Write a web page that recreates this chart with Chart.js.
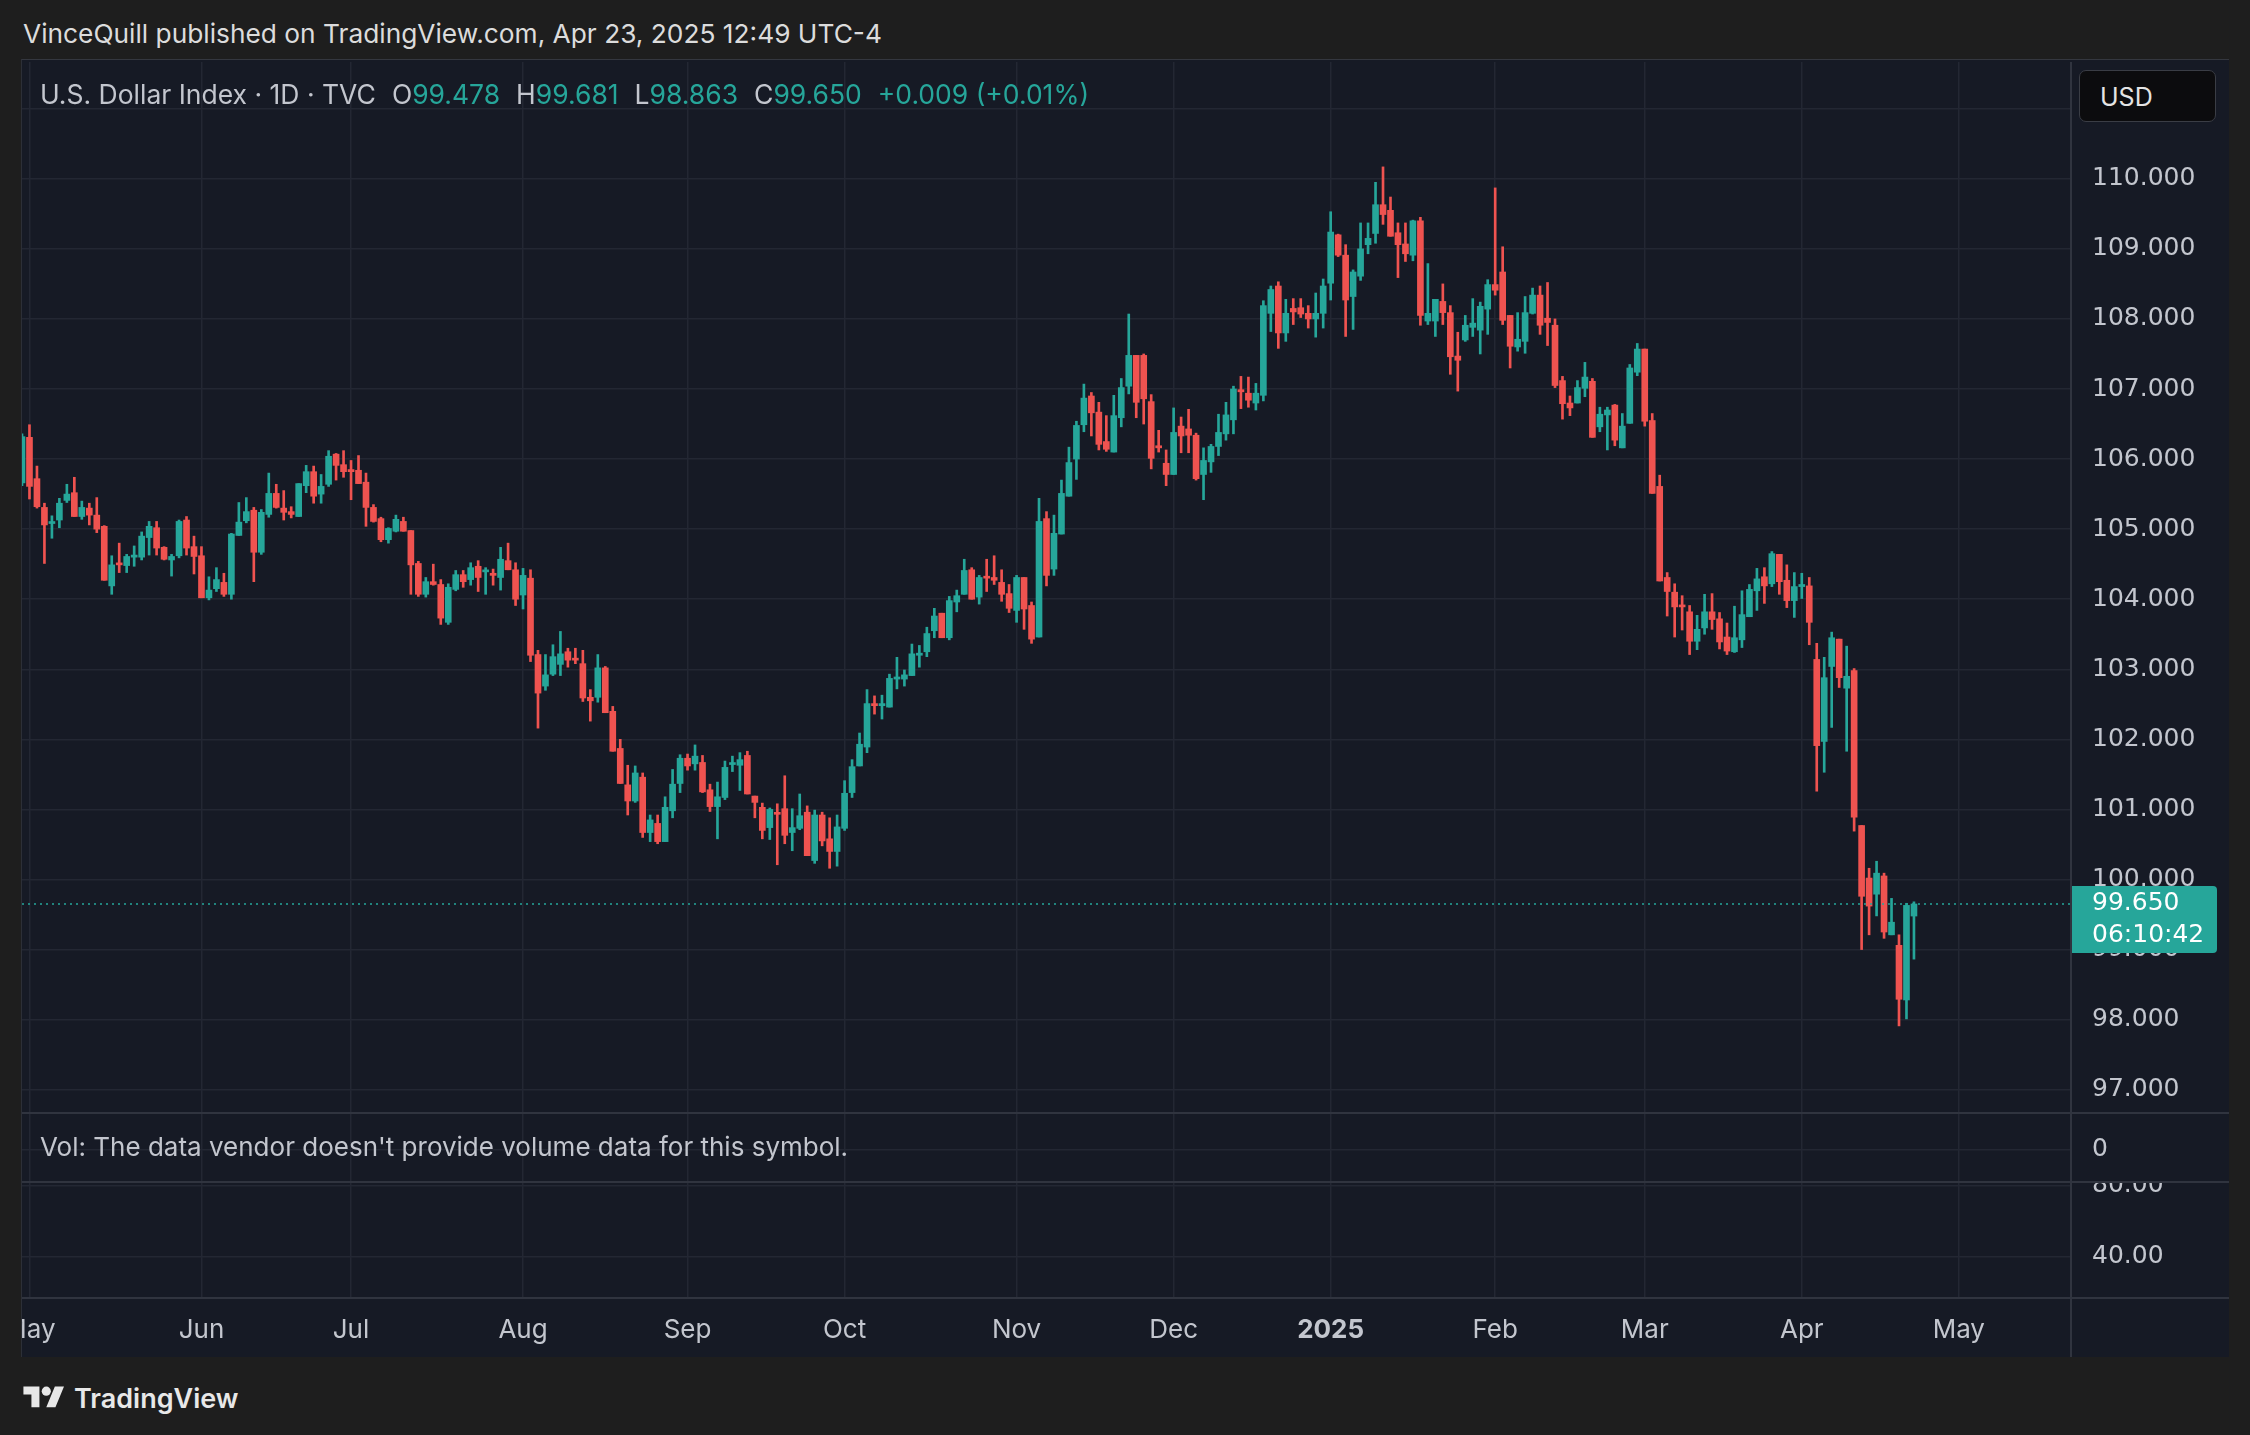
<!DOCTYPE html>
<html>
<head>
<meta charset="utf-8">
<script src="https://cdn.jsdelivr.net/npm/chart.js@4.4.1/dist/chart.umd.min.js"></script>
<style>
  html, body { margin: 0; padding: 0; width: 2250px; height: 1435px; overflow: hidden; background: #1e1e1e; font-family: Inter, "Noto Sans", sans-serif; }
  #byline { position: absolute; left: 23px; top: 18px; font-size: 26.3px; color: #dcdcdc; white-space: nowrap; }
  #panel { position: absolute; left: 21px; top: 59px; width: 2207px; height: 1297px; background: #161a25; border-top: 1px solid #34373f; border-left: 1px solid #2c2f37; }
  #wrap { position: absolute; left: 0; top: 2px; width: 2207px; height: 1295px; }
  #legend { position: absolute; left: 18px; top: 18px; font-size: 26.5px; color: #c3c6ce; white-space: nowrap; }
  #legend .v { color: #26a69a; }
  #legend .g { margin-left: 16px; }
  #usd { position: absolute; left: 2057px; top: 10px; width: 137px; height: 52px; background: #0c0c0e; border: 1px solid #3a3d45; border-radius: 7px; color: #e4e4e4; font-size: 25px; line-height: 52px; padding-left: 20px; box-sizing: border-box; }
  #note { position: absolute; left: 18px; top: 1071px; font-size: 26px; color: #c3c6ce; white-space: nowrap; }
  #brand { position: absolute; left: 23px; top: 1382px; height: 32px; display: flex; align-items: center; color: #e8e8e8; font-size: 27px; font-weight: 600; }
  #brand svg { width: 42px; height: 32px; margin-right: 9px; }
</style>
</head>
<body>
<div id="byline">VinceQuill published on TradingView.com, Apr 23, 2025 12:49 UTC-4</div>
<div id="panel">
  <div id="wrap"><canvas id="dxy"></canvas></div>
  <div id="legend">U.S. Dollar Index · 1D · TVC<span class="g">O</span><span class="v">99.478</span><span class="g">H</span><span class="v">99.681</span><span class="g">L</span><span class="v">98.863</span><span class="g">C</span><span class="v">99.650</span><span class="g v">+0.009 (+0.01%)</span></div>
  <div id="usd">USD</div>
  <div id="note">Vol: The data vendor doesn't provide volume data for this symbol.</div>
</div>
<div id="brand"><svg viewBox="0 0 36 28"><path fill="#e8e8e8" d="M14 22H7V11H0V4h14v18zM28 22h-8l7.5-18h8L28 22z"/><circle fill="#e8e8e8" cx="20" cy="8" r="4"/></svg><span>TradingView</span></div>

<script>
// daily candles, Apr 30 2024 .. Apr 23 2025
const opens = [
  105.66,106.31,105.72,105.31,105.08,105.13,105.41,105.52,105.18,105.30,105.20,105.04,104.19,104.51,104.48,104.60,104.60,104.88,105.02,104.74,
  104.56,104.62,105.13,104.75,104.62,104.02,104.15,104.24,104.07,104.91,105.12,105.27,104.67,105.21,105.51,105.30,105.25,105.18,105.62,105.82,
  105.50,105.64,106.07,105.92,105.85,105.84,105.67,105.31,105.15,104.85,104.97,105.11,104.98,104.51,104.07,104.25,104.21,103.67,104.14,104.35,
  104.28,104.47,104.39,104.37,104.31,104.55,104.42,104.06,104.30,103.21,102.76,102.93,103.07,103.25,103.15,103.08,102.60,102.60,103.02,102.40,
  101.87,101.35,101.12,101.46,100.67,100.80,100.54,100.98,101.37,101.73,101.65,101.67,101.28,101.04,101.17,101.64,101.63,101.77,101.19,101.03,
  100.74,100.95,101.01,100.67,100.73,100.96,100.27,100.92,100.58,100.40,100.73,101.24,101.62,101.89,102.51,102.48,102.46,102.86,102.86,102.91,
  103.20,103.25,103.55,103.80,103.45,103.96,104.07,104.42,104.03,104.32,104.31,104.24,104.08,103.84,104.31,103.91,103.46,105.15,104.43,104.93,
  105.47,106.00,106.49,106.90,106.67,106.25,106.10,106.59,107.04,107.48,107.48,106.82,106.19,105.94,105.78,106.47,106.43,106.34,105.78,105.96,
  106.18,106.36,106.56,106.99,106.94,106.80,106.91,108.08,108.47,107.80,108.15,108.16,108.08,108.00,108.08,108.51,109.20,108.91,108.32,108.61,
  109.06,109.22,109.63,109.55,109.23,109.07,108.91,109.40,107.97,107.97,108.25,108.09,107.47,107.70,107.88,107.84,108.14,108.49,108.67,108.05,
  107.60,107.68,108.08,108.34,108.01,107.91,107.12,106.80,106.80,107.01,107.11,106.46,106.63,106.77,106.16,106.51,107.24,107.57,106.55,105.61,
  104.31,104.10,103.91,103.82,103.40,103.59,103.82,103.72,103.46,103.25,103.42,103.75,104.12,104.32,104.22,104.64,104.27,103.98,104.18,104.19,
  103.14,101.97,103.04,103.43,102.73,102.98,100.77,100.02,99.79,100.05,99.21,99.06,98.28,99.478
];
const highs = [
  106.36,106.49,105.90,105.37,105.19,105.44,105.64,105.74,105.40,105.37,105.45,105.05,104.62,104.80,104.64,104.76,104.96,105.11,105.11,104.75,
  104.64,105.13,105.18,104.90,104.75,104.32,104.45,104.37,104.94,105.38,105.45,105.31,105.28,105.80,105.64,105.55,105.32,105.65,105.91,105.90,
  105.78,106.12,106.08,106.12,105.98,106.05,105.80,105.35,105.17,105.02,105.20,105.17,104.98,104.54,104.31,104.50,104.28,104.22,104.41,104.41,
  104.52,104.55,104.45,104.43,104.74,104.80,104.52,104.44,104.42,103.27,103.21,103.35,103.54,103.30,103.30,103.27,102.71,103.21,103.04,102.47,
  102.00,101.63,101.62,101.52,100.92,100.92,101.18,101.57,101.78,101.79,101.92,101.77,101.36,101.39,101.69,101.76,101.81,101.83,101.19,101.09,
  101.02,101.08,101.48,101.01,101.22,101.05,100.99,100.96,100.88,100.92,101.41,101.71,102.09,102.71,102.62,102.63,102.93,103.17,102.99,103.36,
  103.34,103.60,103.87,103.80,104.04,104.13,104.57,104.45,104.34,104.57,104.62,104.42,104.21,104.34,104.31,103.96,105.44,105.25,105.20,105.70,
  106.17,106.54,107.07,106.95,106.81,106.62,106.91,107.15,108.07,107.48,107.50,106.92,106.41,106.13,106.73,106.60,106.71,106.37,106.16,106.21,
  106.64,106.81,107.04,107.18,107.17,107.08,108.26,108.47,108.53,108.28,108.29,108.29,108.19,108.37,108.57,109.53,109.21,109.06,108.70,109.37,
  109.37,109.95,110.17,109.74,109.37,109.37,109.41,109.45,108.79,108.28,108.50,108.19,107.81,108.05,108.29,108.24,108.56,109.87,109.03,108.05,
  108.09,108.32,108.44,108.47,108.52,108.00,107.18,106.90,107.12,107.38,107.15,106.74,106.74,106.78,106.65,107.35,107.65,107.57,106.65,105.77,
  104.38,104.22,104.05,103.91,103.77,104.07,104.08,103.81,103.66,103.90,104.12,104.21,104.44,104.45,104.68,104.64,104.49,104.38,104.37,104.31,
  103.37,103.17,103.53,103.43,103.33,103.01,100.77,100.16,100.26,100.09,99.73,99.21,99.66,99.681
];
const lows = [
  105.62,105.43,105.30,104.51,104.87,105.02,105.38,105.18,105.14,105.06,104.95,104.27,104.07,104.38,104.38,104.47,104.56,104.63,104.63,104.56,
  104.33,104.59,104.63,104.36,104.02,103.99,104.11,104.04,104.00,104.91,105.09,104.25,104.64,105.17,105.30,105.13,105.16,105.18,105.52,105.37,
  105.37,105.61,105.70,105.74,105.42,105.65,105.04,105.10,104.82,104.80,104.96,104.97,104.07,104.04,104.03,104.20,103.64,103.64,104.12,104.17,
  104.20,104.11,104.07,104.20,104.13,104.42,103.91,103.86,103.11,102.16,102.70,102.91,102.91,103.03,103.08,102.54,102.26,102.53,102.38,101.83,
  101.37,100.92,101.10,100.60,100.54,100.51,100.54,100.88,101.24,101.56,101.56,101.24,100.97,100.58,101.14,101.54,101.27,101.22,100.88,100.58,
  100.57,100.21,100.51,100.41,100.71,100.34,100.23,100.48,100.16,100.19,100.70,101.17,101.62,101.81,102.36,102.29,102.46,102.72,102.76,102.91,
  103.03,103.18,103.45,103.45,103.42,103.82,104.07,104.00,103.93,104.11,104.21,103.97,103.81,103.67,103.57,103.37,103.46,104.19,104.34,104.93,
  105.47,105.71,106.39,106.33,106.13,106.11,106.10,106.46,106.93,106.59,106.50,105.86,106.10,105.62,105.78,106.09,106.09,105.70,105.42,105.81,
  106.05,106.27,106.36,106.72,106.74,106.70,106.83,107.82,107.58,107.68,107.92,108.02,107.87,107.74,107.87,108.27,108.89,107.75,107.85,108.55,
  108.93,109.08,109.35,109.18,108.59,108.82,108.83,107.91,107.92,107.75,107.92,107.21,106.97,107.68,107.75,107.50,107.78,108.34,107.92,107.30,
  107.54,107.51,108.07,107.78,107.62,107.02,106.57,106.62,106.80,106.89,106.31,106.39,106.13,106.19,106.16,106.51,107.19,106.47,105.51,104.26,
  103.76,103.46,103.56,103.21,103.28,103.50,103.57,103.29,103.21,103.24,103.31,103.75,103.84,103.94,104.18,104.07,103.88,103.74,104.01,103.35,
  101.26,101.53,102.17,102.74,101.83,100.69,99.00,99.21,99.48,99.16,99.21,97.91,98.01,98.863
];
const closes = [
  106.32,105.61,105.32,105.06,105.10,105.37,105.50,105.18,105.31,105.20,105.00,104.27,104.49,104.49,104.61,104.63,104.90,105.04,104.73,104.57,
  104.61,105.11,104.73,104.61,104.02,104.13,104.28,104.07,104.93,105.10,105.25,104.67,105.24,105.51,105.31,105.24,105.21,105.65,105.82,105.47,
  105.61,106.04,105.91,105.82,105.82,105.65,105.31,105.11,104.85,105.01,105.14,104.97,104.49,104.07,104.25,104.21,103.73,104.17,104.35,104.25,
  104.45,104.31,104.41,104.34,104.57,104.42,104.00,104.34,103.20,102.66,102.92,103.18,103.22,103.13,103.13,102.59,102.55,103.02,102.38,101.83,
  101.37,101.12,101.52,100.67,100.85,100.54,101.03,101.36,101.73,101.62,101.76,101.25,101.04,101.18,101.60,101.66,101.71,101.22,101.10,100.70,
  101.00,100.93,100.63,100.74,100.91,100.34,100.92,100.55,100.40,100.75,101.23,101.61,101.93,102.51,102.48,102.51,102.87,102.89,102.92,103.22,
  103.23,103.51,103.76,103.45,103.98,104.05,104.41,104.00,104.31,104.30,104.27,104.07,103.87,104.31,103.86,103.43,105.11,104.34,104.94,105.51,
  105.95,106.48,106.87,106.66,106.21,106.14,106.62,107.02,107.48,106.81,106.86,106.01,106.16,105.78,106.38,106.33,106.34,105.72,105.98,106.18,
  106.38,106.63,107.00,106.96,106.84,106.94,108.19,108.42,107.80,108.08,108.10,108.07,108.00,108.08,108.47,109.24,108.91,108.27,108.67,109.00,
  109.15,109.63,109.49,109.18,109.06,108.93,109.40,108.05,108.08,108.28,108.09,107.46,107.41,107.91,107.94,108.18,108.49,108.41,107.98,107.61,
  107.71,108.09,108.34,107.91,107.95,107.05,106.79,106.73,107.02,107.17,106.31,106.64,106.70,106.27,106.47,107.30,107.57,106.54,105.51,104.26,
  104.11,103.89,103.89,103.40,103.57,103.82,103.71,103.39,103.26,103.45,103.78,104.14,104.29,104.19,104.65,104.25,103.98,104.18,104.21,103.67,
  101.91,102.88,103.45,102.88,102.90,100.89,99.76,99.62,100.09,99.25,99.39,98.29,99.63,99.650
];

// trading calendar: weekdays from the first bar to the last, minus closed days, then empty space to the right
const firstDay = '2024-04-30';
const lastDay = '2025-04-23';
const closedDays = ['2024-12-25', '2025-01-01', '2025-04-18'];
const emptyBarsRight = 21;
const monthTickLabels = ['May', 'Jun', 'Jul', 'Aug', 'Sep', 'Oct', 'Nov', 'Dec', '2025', 'Feb', 'Mar', 'Apr', 'May'];
const priceTicks = [97, 98, 99, 100, 101, 102, 103, 104, 105, 106, 107, 108, 109, 110, 111];
const volTicks = [0];
const oscTicks = [40, 80];

const upColor = '#26a69a';
const downColor = '#ef5350';
const gridColor = '#232733';
const lineColor = '#30343f';
const textColor = '#c3c6ce';
const bgColor = '#161a25';
const axisFont = { family: '"DejaVu Sans", sans-serif', size: 25 };

function tradingDays() {
  const out = [];
  const d = new Date(firstDay + 'T00:00:00Z');
  const end = new Date(lastDay + 'T00:00:00Z');
  let extra = 0;
  while (d <= end || extra < emptyBarsRight) {
    const wd = d.getUTCDay();
    const s = d.toISOString().slice(0, 10);
    if (wd !== 0 && wd !== 6 && !closedDays.includes(s)) {
      out.push(s);
      if (d > end) extra++;
    }
    d.setUTCDate(d.getUTCDate() + 1);
  }
  return out;
}
const dates = tradingDays();

// month tick positions: first bar of every month
const monthStart = {};
let m = 0;
for (let i = 1; i < dates.length; i++) {
  if (dates[i].slice(5, 7) !== dates[i - 1].slice(5, 7)) {
    monthStart[i] = monthTickLabels[m++];
  }
}

const barColors = closes.map((c, i) => (c >= opens[i] ? upColor : downColor));
const wicks = lows.map((l, i) => [l, highs[i]]);
const bodies = opens.map((o, i) => [o, closes[i]]);

// fixed axis sizes, no label overhang padding
const fixY = s => { s.width = 158; s.paddingTop = 0; s.paddingBottom = 0; };
const fixX = s => { s.height = 59; s.paddingLeft = 0; s.paddingRight = 0; };

const overlay = {
  id: 'overlay',
  afterDraw(chart) {
    const { ctx, chartArea, width, height, scales } = chart;
    ctx.save();
    // the 80.00 label is cut by the pane above it
    ctx.fillStyle = bgColor;
    ctx.fillRect(chartArea.right + 1, scales.vol.bottom - 20, width, 20);

    // last price line
    const py = scales.y.getPixelForValue(closes[closes.length - 1]);
    ctx.strokeStyle = upColor;
    ctx.lineWidth = 1.5;
    ctx.setLineDash([2, 4]);
    ctx.beginPath();
    ctx.moveTo(chartArea.left, py);
    ctx.lineTo(chartArea.right, py);
    ctx.stroke();
    ctx.setLineDash([]);

    // pane separators
    ctx.strokeStyle = lineColor;
    ctx.lineWidth = 2;
    [scales.vol.top, scales.osc.top, chartArea.bottom].forEach(y => {
      ctx.beginPath();
      ctx.moveTo(0, y);
      ctx.lineTo(width, y);
      ctx.stroke();
    });
    ctx.beginPath();
    ctx.moveTo(chartArea.right, 0);
    ctx.lineTo(chartArea.right, height);
    ctx.stroke();

    // last price label
    const bx = chartArea.right + 1;
    ctx.fillStyle = upColor;
    ctx.beginPath();
    ctx.roundRect(bx, py - 18, 145, 67, [0, 4, 4, 0]);
    ctx.fill();
    ctx.fillStyle = '#ffffff';
    ctx.font = '25px "DejaVu Sans", sans-serif';
    ctx.textBaseline = 'middle';
    ctx.fillText('99.650', bx + 20, py);
    ctx.fillText('06:10:42', bx + 20, py + 32);
    ctx.restore();
  }
};

new Chart(document.getElementById('dxy'), {
  type: 'bar',
  data: {
    labels: dates,
    datasets: [
      { label: 'wick', data: wicks, backgroundColor: barColors, barThickness: 2, grouped: false, borderWidth: 0, yAxisID: 'y' },
      { label: 'body', data: bodies, backgroundColor: barColors, barThickness: 6, grouped: false, borderWidth: 0, minBarLength: 2, yAxisID: 'y' }
    ]
  },
  options: {
    responsive: true,
    maintainAspectRatio: false,
    animation: false,
    layout: { padding: 0 },
    plugins: { legend: { display: false }, tooltip: { enabled: false } },
    scales: {
      x: {
        type: 'category',
        offset: false,
        grid: { offset: false, color: gridColor, lineWidth: 1.5, drawTicks: false },
        border: { display: false },
        afterFit: fixX,
        ticks: {
          autoSkip: false,
          maxRotation: 0,
          padding: 17,
          color: textColor,
          font: c => ({ family: 'Inter, "Noto Sans", sans-serif', size: 26, weight: c.tick && c.tick.label === '2025' ? 'bold' : 'normal' }),
          callback: (v, i) => (monthStart[i] !== undefined ? monthStart[i] : null)
        }
      },
      y: {
        type: 'linear',
        position: 'right',
        stack: 'panes',
        stackWeight: 1051,
        min: 96.667,
        max: 111.667,
        afterFit: fixY,
        afterBuildTicks: s => { s.ticks = priceTicks.map(v => ({ value: v })); },
        grid: { color: gridColor, lineWidth: 1.5, drawTicks: false },
        border: { display: false },
        ticks: {
          padding: 21,
          color: textColor,
          font: axisFont,
          callback: v => (v === 111 ? '' : v.toFixed(3))
        }
      },
      vol: {
        type: 'linear',
        position: 'right',
        stack: 'panes',
        stackWeight: 69,
        min: -0.93,
        max: 1.07,
        afterFit: fixY,
        afterBuildTicks: s => { s.ticks = volTicks.map(v => ({ value: v })); },
        grid: { color: gridColor, lineWidth: 1.5, drawTicks: false },
        border: { display: false },
        ticks: {
          padding: 21,
          color: textColor,
          font: axisFont,
          callback: v => String(v)
        }
      },
      osc: {
        type: 'linear',
        position: 'right',
        stack: 'panes',
        stackWeight: 116,
        min: 16.9,
        max: 82.25,
        afterFit: fixY,
        afterBuildTicks: s => { s.ticks = oscTicks.map(v => ({ value: v })); },
        grid: { color: gridColor, lineWidth: 1.5, drawTicks: false },
        border: { display: false },
        ticks: {
          padding: 21,
          color: textColor,
          font: axisFont,
          callback: v => v.toFixed(2)
        }
      }
    }
  },
  plugins: [overlay]
});
</script>
</body>
</html>
